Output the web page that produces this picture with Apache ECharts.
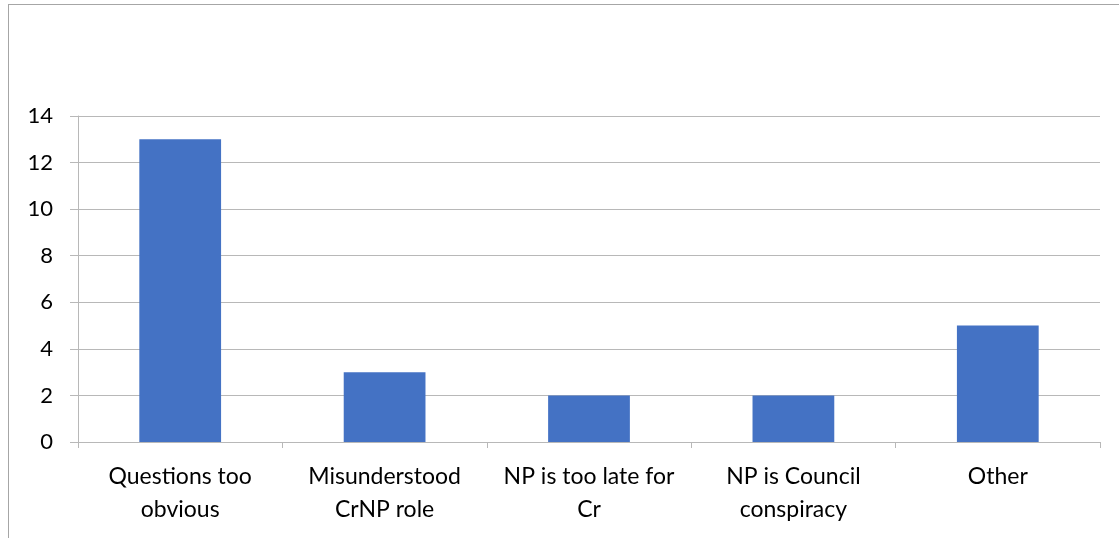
<!DOCTYPE html>
<html>
<head>
<meta charset="utf-8">
<script src="https://cdn.jsdelivr.net/npm/echarts@6/dist/echarts.min.js"></script>
<style>
html,body{margin:0;padding:0;background:#fff;}
#frame{position:absolute;left:8px;top:4px;width:1200px;height:600px;border-left:1.5px solid #a6a6a6;border-top:1.5px solid #a6a6a6;pointer-events:none;}
#chart{position:absolute;left:0;top:0;width:1119px;height:538px;}
</style>
</head>
<body>
<div id="chart"></div>
<div id="frame"></div>
<script>
const categories = ["Questions too\nobvious", "Misunderstood\nCrNP role", "NP is too late for\nCr", "NP is Council\nconspiracy", "Other"];
const values = [13, 3, 2, 2, 5];
const yTicks = { min: 0, max: 14, interval: 2 };

const chart = echarts.init(document.getElementById('chart'), null, {renderer: 'canvas'});
chart.setOption({
  animation: false,
  grid: { left: 78, right: 19, top: 116, bottom: 96, containLabel: false },
  xAxis: {
    type: 'category',
    data: categories,
    axisLine: { show: true, lineStyle: { color: '#b8b8b8', width: 1 } },
    axisTick: { show: true, length: 6, lineStyle: { color: '#b8b8b8' } },
    axisLabel: { color: '#000', fontFamily: 'Lato', fontSize: 23, lineHeight: 33, margin: 18, interval: 0 }
  },
  yAxis: {
    type: 'value',
    min: yTicks.min, max: yTicks.max, interval: yTicks.interval,
    axisLine: { show: true, lineStyle: { color: '#b8b8b8', width: 1 } },
    axisTick: { show: true, length: 8, lineStyle: { color: '#b8b8b8' } },
    axisLabel: { color: '#000', fontFamily: 'Lato', fontSize: 22, margin: 25 },
    splitLine: { show: true, lineStyle: { color: '#b8b8b8', width: 1 } }
  },
  series: [{
    type: 'bar',
    data: values,
    barWidth: '40%',
    itemStyle: { color: '#4472C4' }
  }]
});
</script>
</body>
</html>
